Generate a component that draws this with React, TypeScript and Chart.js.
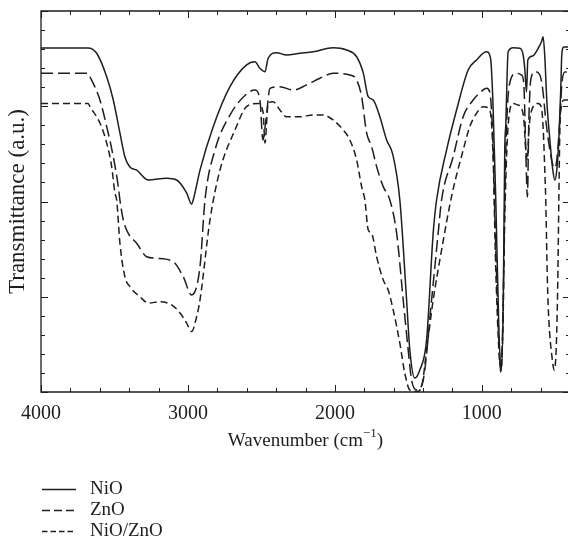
import React, { useEffect, useRef } from "react";
import { Chart, registerables } from "chart.js";

Chart.register(...registerables);

// ---- data (wavenumber in cm^-1, transmittance in arbitrary units 0..20) ----
const SERIES_LABELS = ["NiO", "ZnO", "NiO/ZnO"];

const NIO_W = [4000, 3680, 3621, 3553, 3508, 3463, 3429, 3395, 3349, 3270, 3145, 3077, 3009, 2975, 2964, 2918, 2828, 2714, 2601, 2544, 2510, 2476, 2454, 2397, 2329, 2238, 2148, 2012, 1920, 1852, 1807, 1773, 1739, 1694, 1648, 1605, 1558, 1512, 1490, 1456, 1422, 1376, 1331, 1308, 1240, 1172, 1093, 1036, 968, 941, 925, 905, 884, 867, 854, 844, 837, 821, 787, 741, 719, 707, 696, 687, 653, 617, 594, 583, 571, 558, 537, 517, 503, 490, 476, 463, 456, 442, 401];
const NIO_T = [18.06, 18.06, 17.78, 16.55, 15.33, 13.6, 12.34, 11.81, 11.65, 11.13, 11.22, 11.13, 10.45, 9.87, 10.08, 11.65, 13.93, 16.03, 17.17, 17.34, 16.99, 16.81, 17.52, 17.81, 17.69, 17.78, 17.86, 18.07, 17.95, 17.6, 16.75, 15.5, 15.33, 14.45, 13.23, 12.44, 10.08, 4.83, 2.2, 0.73, 1.15, 2.73, 8.35, 10.08, 12.7, 14.8, 16.9, 17.43, 17.86, 17.53, 15.33, 10.08, 3.25, 1.15, 4.83, 12.7, 14.02, 17.86, 18.07, 18.04, 17.69, 16.9, 15.75, 17.43, 17.64, 18.04, 18.39, 18.65, 17.53, 15.33, 13.23, 11.65, 11.13, 11.65, 13.23, 15.85, 17.69, 18.11, 18.11];

const ZNO_W = [4000, 3680, 3667, 3599, 3553, 3508, 3474, 3463, 3440, 3406, 3349, 3281, 3213, 3100, 3032, 2975, 2918, 2884, 2816, 2714, 2592, 2544, 2510, 2490, 2469, 2442, 2374, 2284, 2193, 2102, 2012, 1898, 1852, 1818, 1784, 1750, 1716, 1671, 1626, 1580, 1535, 1501, 1478, 1444, 1399, 1342, 1297, 1274, 1195, 1127, 1059, 1014, 968, 946, 925, 905, 884, 871, 857, 844, 830, 810, 764, 730, 714, 701, 690, 680, 667, 639, 605, 585, 565, 537, 517, 503, 490, 469, 456, 435, 401];
const ZNO_T = [16.73, 16.73, 16.55, 15.33, 13.93, 12.35, 10.78, 10.08, 9.03, 8.33, 7.81, 7.1, 7.02, 6.84, 6.05, 5.09, 6.58, 10.08, 12.7, 14.54, 15.7, 15.85, 15.33, 13.23, 14.28, 15.94, 16.03, 15.85, 16.12, 16.47, 16.73, 16.64, 16.38, 15.5, 13.6, 12.88, 11.83, 10.78, 10.08, 8.35, 4.83, 2.2, 0.63, 0.1, 0.63, 4.83, 8.35, 10.08, 12.35, 14.45, 15.33, 15.7, 15.94, 15.75, 13.23, 7.45, 2.73, 1.05, 3.78, 10.08, 14.28, 16.22, 16.73, 16.64, 16.12, 12.7, 10.24, 14.28, 16.38, 16.81, 16.64, 15.85, 14.28, 12.7, 11.92, 11.76, 12.18, 14.28, 16.12, 16.8, 16.8];

const MIX_W = [4000, 3680, 3667, 3599, 3553, 3519, 3497, 3485, 3463, 3429, 3395, 3327, 3270, 3190, 3111, 3054, 3009, 2975, 2941, 2918, 2850, 2782, 2680, 2601, 2522, 2488, 2476, 2454, 2420, 2374, 2329, 2238, 2148, 2080, 2012, 1943, 1898, 1852, 1818, 1796, 1773, 1750, 1716, 1671, 1637, 1603, 1558, 1524, 1490, 1444, 1410, 1376, 1331, 1274, 1204, 1127, 1082, 1036, 991, 946, 925, 905, 884, 871, 857, 844, 823, 787, 755, 730, 714, 701, 690, 680, 660, 617, 594, 582, 571, 565, 554, 544, 524, 507, 493, 483, 476, 469, 456, 442, 401];
const MIX_T = [15.15, 15.15, 14.98, 14.12, 13.07, 11.83, 10.45, 10.08, 7.82, 6.05, 5.53, 5.0, 4.67, 4.74, 4.57, 4.15, 3.62, 3.17, 3.95, 4.83, 9.03, 11.65, 13.75, 14.98, 15.15, 14.65, 13.07, 15.15, 15.24, 14.8, 14.45, 14.45, 14.54, 14.54, 14.28, 13.75, 13.23, 12.18, 10.78, 10.08, 8.5, 8.33, 7.1, 5.88, 5.35, 4.3, 2.56, 0.98, 0.1, 0.02, 0.28, 2.2, 4.83, 7.45, 10.34, 12.7, 13.93, 14.63, 14.98, 14.8, 12.7, 6.4, 2.2, 1.15, 3.25, 9.03, 13.75, 15.15, 15.07, 14.91, 14.28, 12.7, 12.18, 13.75, 14.8, 15.15, 14.91, 13.75, 11.5, 10.08, 5.88, 3.78, 1.94, 1.15, 2.47, 5.88, 10.08, 13.75, 15.07, 15.33, 15.33];

const X_TICK_LABELS = ["4000", "3000", "2000", "1000"];
const X_TITLE = "Wavenumber (cm";
const X_TITLE_SUP = "\u22121";
const Y_TITLE = "Transmittance (a.u.)";

const FONT = "'Liberation Serif', 'Times New Roman', serif";
const INK = "#1e1e1e";

function pairs(w: number[], t: number[]) {
  return w.map((x, i) => ({ x, y: t[i] }));
}

const framePlugin = {
  id: "frame",
  afterDatasetsDraw(chart: any) {
    const { ctx, chartArea } = chart;
    const { left, right, top, bottom } = chartArea;
    const xs = chart.scales.x;
    const ys = chart.scales.y;
    ctx.save();
    ctx.strokeStyle = INK;
    ctx.lineWidth = 1.3;
    ctx.beginPath();
    ctx.moveTo(left, top);
    ctx.lineTo(right, top);
    ctx.lineTo(right, bottom);
    ctx.lineTo(left, bottom);
    ctx.closePath();
    ctx.stroke();
    ctx.lineWidth = 1;
    ctx.beginPath();
    for (let v = xs.min; v <= xs.max + 0.001; v += 200) {
      const px = Math.round(xs.getPixelForValue(v)) + 0.5;
      const len = Math.abs(v % 1000) < 0.001 ? 7 : 4;
      ctx.moveTo(px, bottom);
      ctx.lineTo(px, bottom - len);
      ctx.moveTo(px, top);
      ctx.lineTo(px, top + len);
    }
    for (let v = ys.min; v <= ys.max + 0.001; v += 1) {
      const py = Math.round(ys.getPixelForValue(v)) + 0.5;
      const len = Math.abs(v % 5) < 0.001 ? 7 : 4;
      ctx.moveTo(left, py);
      ctx.lineTo(left + len, py);
      ctx.moveTo(right, py);
      ctx.lineTo(right - len, py);
    }
    ctx.stroke();
    ctx.restore();
  },
};

const xTitlePlugin = {
  id: "xTitle",
  afterDraw(chart: any) {
    const { ctx, chartArea } = chart;
    const cx = (chartArea.left + chartArea.right) / 2;
    const cy = 441;
    ctx.save();
    ctx.fillStyle = INK;
    ctx.textBaseline = "middle";
    ctx.textAlign = "left";
    const main = "19px " + FONT;
    const sup = "13px " + FONT;
    ctx.font = main;
    const w1 = ctx.measureText(X_TITLE).width;
    const w3 = ctx.measureText(")").width;
    ctx.font = sup;
    const w2 = ctx.measureText(X_TITLE_SUP).width;
    let x = cx - (w1 + w2 + w3) / 2;
    ctx.font = main;
    ctx.fillText(X_TITLE, x, cy);
    x += w1;
    ctx.font = sup;
    ctx.fillText(X_TITLE_SUP, x, cy - 7);
    x += w2;
    ctx.font = main;
    ctx.fillText(")", x, cy);
    ctx.restore();
  },
};

const legendPlugin = {
  id: "customLegend",
  afterDraw(chart: any) {
    const { ctx } = chart;
    const rows = [489, 510, 531];
    const legendDash = [[], [8, 4], [5.5, 3]];
    ctx.save();
    chart.data.datasets.forEach((ds: any, i: number) => {
      const y = rows[i];
      ctx.strokeStyle = INK;
      ctx.lineWidth = 1.3;
      ctx.setLineDash(legendDash[i]);
      ctx.beginPath();
      ctx.moveTo(42, y + 0.5);
      ctx.lineTo(76, y + 0.5);
      ctx.stroke();
      ctx.setLineDash([]);
      ctx.fillStyle = INK;
      ctx.font = "19px " + FONT;
      ctx.textBaseline = "middle";
      ctx.textAlign = "left";
      ctx.fillText(ds.label, 90, y);
    });
    ctx.restore();
  },
};

export default function App() {
  const ref = useRef<HTMLCanvasElement | null>(null);

  useEffect(() => {
    document.body.style.margin = "0";
    const canvas = ref.current;
    if (!canvas) return;
    const chart = new Chart(canvas, {
      type: "line",
      data: {
        datasets: [
          {
            label: SERIES_LABELS[0],
            data: pairs(NIO_W, NIO_T),
            borderColor: INK,
            borderWidth: 1.5,
            borderDash: [],
            pointRadius: 0,
            cubicInterpolationMode: "monotone",
            fill: false,
          },
          {
            label: SERIES_LABELS[1],
            data: pairs(ZNO_W, ZNO_T),
            borderColor: INK,
            borderWidth: 1.5,
            borderDash: [12, 5],
            pointRadius: 0,
            cubicInterpolationMode: "monotone",
            fill: false,
          },
          {
            label: SERIES_LABELS[2],
            data: pairs(MIX_W, MIX_T),
            borderColor: INK,
            borderWidth: 1.5,
            borderDash: [7, 4],
            pointRadius: 0,
            cubicInterpolationMode: "monotone",
            fill: false,
          },
        ],
      },
      options: {
        animation: false,
        responsive: false,
        maintainAspectRatio: false,
        layout: { padding: { top: 11, right: 0, left: 0, bottom: 0 } },
        plugins: {
          legend: { display: false },
          tooltip: { enabled: false },
        },
        scales: {
          x: {
            type: "linear",
            reverse: true,
            min: 400,
            max: 4000,
            grid: { display: false, drawTicks: false },
            border: { display: false },
            ticks: {
              stepSize: 200,
              autoSkip: false,
              maxRotation: 0,
              padding: 10,
              color: INK,
              font: { family: FONT, size: 20 },
              callback: (v: any) => {
                const s = String(v);
                return X_TICK_LABELS.includes(s) ? s : "";
              },
            },
            afterFit: (s: any) => {
              s.height = 157;
              s.paddingLeft = 0;
              s.paddingRight = 0;
            },
          },
          y: {
            type: "linear",
            min: 0,
            max: 20,
            grid: { display: false, drawTicks: false },
            border: { display: false },
            ticks: { display: false, stepSize: 1 },
            title: {
              display: true,
              text: Y_TITLE,
              color: INK,
              font: { family: FONT, size: 23 },
              padding: { top: 4, bottom: 0 },
            },
            afterFit: (s: any) => {
              s.width = 41;
              s.paddingTop = 0;
              s.paddingBottom = 0;
            },
          },
        },
      },
      plugins: [framePlugin, xTitlePlugin, legendPlugin],
    });
    return () => chart.destroy();
  }, []);

  return (
    <div style={{ width: 568, height: 549, overflow: "hidden", position: "relative", background: "#fff" }}>
      <canvas ref={ref} width={570} height={549} style={{ display: "block", width: 570, height: 549 }} />
    </div>
  );
}
